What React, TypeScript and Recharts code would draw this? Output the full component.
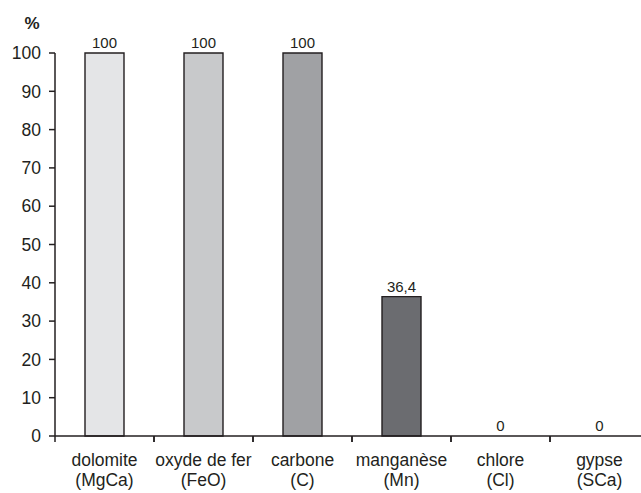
import React from 'react';
import { ComposedChart, Bar, Line, XAxis, YAxis, Cell, LabelList, Customized } from 'recharts';

const names = ['dolomite', 'oxyde de fer', 'carbone', 'manganèse', 'chlore', 'gypse'];
const formulas = ['(MgCa)', '(FeO)', '(C)', '(Mn)', '(Cl)', '(SCa)'];
const values = [100, 100, 100, 36.4, 0, 0];
const colors = ['#e4e5e7', '#c8c9cb', '#a0a1a4', '#6b6c70', '#888888', '#888888'];
const yTicks = [0, 10, 20, 30, 40, 50, 60, 70, 80, 90, 100];

const data = names.map((n, i) => ({ name: n, formula: formulas[i], value: values[i] }));

const INK = '#231f20';
const FONT = '"Liberation Sans", Arial, Helvetica, sans-serif';

const XTick = (props: any) => {
  const { x, y, payload, index } = props;
  const off = payload.offset || 0;
  const d = data[index] || data.find((e) => e.name === payload.value);
  return (
    <g>
      <line x1={x - off} x2={x - off} y1={y - 8} y2={y - 2} stroke={INK} strokeWidth={1.5} />
      <line x1={x + off} x2={x + off} y1={y - 8} y2={y - 2} stroke={INK} strokeWidth={1.5} />
      <text x={x} y={y + 22} textAnchor="middle" fontSize={17.5} fill={INK} fontFamily={FONT}>
        {payload.value}
      </text>
      <text x={x} y={y + 42} textAnchor="middle" fontSize={17.5} fill={INK} fontFamily={FONT}>
        {d ? d.formula : ''}
      </text>
    </g>
  );
};

export default function App() {
  return (
    <div style={{ position: 'absolute', left: 0, top: 0, width: 641, height: 493, overflow: 'hidden', background: '#fff' }}>
      <ComposedChart
        width={660}
        height={493}
        data={data}
        margin={{ top: 53, right: 11, bottom: 0, left: 0 }}
        barCategoryGap={0}
      >
        <XAxis
          dataKey="name"
          interval={0}
          height={57}
          tickLine={false}
          axisLine={{ stroke: INK, strokeWidth: 1.5 }}
          tick={<XTick />}
        />
        <YAxis
          domain={[0, 100]}
          ticks={yTicks}
          width={55}
          interval={0}
          tickSize={6}
          tickMargin={8}
          axisLine={{ stroke: INK, strokeWidth: 1.5 }}
          tickLine={{ stroke: INK, strokeWidth: 1.5 }}
          tick={{ fontSize: 17.5, fill: INK, fontFamily: FONT }}
        />
        <Bar dataKey="value" barSize={39} stroke={INK} strokeWidth={1.4} isAnimationActive={false}>
          {data.map((e, i) => (
            <Cell key={i} fill={colors[i]} />
          ))}
        </Bar>
        <Line dataKey="value" stroke="none" dot={false} activeDot={false} isAnimationActive={false}>
          <LabelList
            dataKey="value"
            position="top"
            offset={5}
            fill={INK}
            fontSize={15}
            fontFamily={FONT}
            formatter={(v: any) => String(v).replace('.', ',')}
          />
        </Line>
        <Customized
          component={() => (
            <text x={32} y={29} textAnchor="middle" fontSize={17} fontWeight="bold" fill={INK} fontFamily={FONT}>
              %
            </text>
          )}
        />
      </ComposedChart>
    </div>
  );
}
